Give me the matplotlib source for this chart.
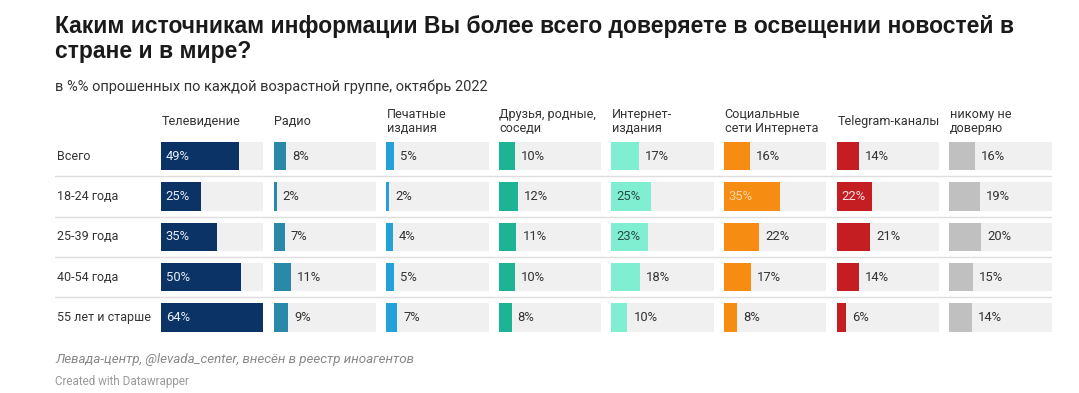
import numpy as np
import matplotlib.pyplot as plt
import matplotlib.transforms as mtransforms

plt.rcParams['font.family'] = ['Roboto', 'DejaVu Sans']

# data
groups = ["Всего", "18-24 года", "25-39 года", "40-54 года", "55 лет и старше"]
sources = ["Телевидение", "Радио", "Печатные\nиздания", "Друзья, родные,\nсоседи",
           "Интернет-\nиздания", "Социальные\nсети Интернета", "Telegram-каналы",
           "никому не\nдоверяю"]
tv = [49, 25, 35, 50, 64]
radio = [8, 2, 7, 11, 9]
printed = [5, 2, 4, 5, 7]
friends = [10, 12, 11, 10, 8]
internet = [17, 25, 23, 18, 10]
social = [16, 35, 22, 17, 8]
telegram = [14, 22, 21, 14, 6]
nobody = [16, 19, 20, 15, 14]
columns = [tv, radio, printed, friends, internet, social, telegram, nobody]

colors = ["#0b3366", "#2a88a9", "#25a1d9", "#1cb495", "#80efd1", "#f68c12", "#c41d22", "#c0c0c0"]
inside_txt = ["#e8eef8", "#333333", "#333333", "#333333", "#2c4a44", "#ffd9a8", "#fbe3e3", "#333333"]
# which labels sit inside their bar
inside = {0: [0, 1, 2, 3, 4], 4: [1, 2], 5: [1], 6: [1]}

W, H = 1079, 393
fig = plt.figure(figsize=(W / 100, H / 100), dpi=100)
fig.patch.set_facecolor("white")

top_px, bot_px = 135.8, 337.8
ax_b = 1 - bot_px / H
ax_h = (bot_px - top_px) / H
y = np.arange(len(groups))
xmax = 64
bh = 0.705

# separators across the whole table
sep = fig.add_axes([55 / W, ax_b, (1052 - 55) / W, ax_h])
sep.set_ylim(len(groups) - 0.5, -0.5)
sep.set_xlim(0, 1)
for k in range(len(groups) - 1):
    sep.axhline(k + 0.5, color="#dedede", lw=1)
sep.axis("off")

col0, period, colw = 161, 112.6, 102.5
for c, vals in enumerate(columns):
    ax = fig.add_axes([(col0 + c * period) / W, ax_b, colw / W, ax_h])
    ax.barh(y, [xmax] * len(vals), height=bh, color="#f0f0f0", lw=0)
    ax.barh(y, vals, height=bh, color=colors[c], lw=0)
    ax.set_xlim(0, xmax)
    ax.set_ylim(len(groups) - 0.5, -0.5)
    ax.axis("off")
    for r, v in enumerate(vals):
        if r in inside.get(c, []):
            ax.annotate(f"{v}%", (0, r), xytext=(3.5, 0), textcoords="offset points",
                        ha="left", va="center", fontsize=9.4, color=inside_txt[c])
        else:
            ax.annotate(f"{v}%", (v, r), xytext=(4.3, 0), textcoords="offset points",
                        ha="left", va="center", fontsize=9.4, color="#333333")
    ax.annotate(sources[c], (0, 1), xycoords="axes fraction", xytext=(0.5, 10.2),
                textcoords="offset points", ha="left", va="center", fontsize=9.1,
                color="#333333", linespacing=1.05)
    if c == 0:
        tr = mtransforms.blended_transform_factory(fig.transFigure, ax.transData)
        for r, g in enumerate(groups):
            ax.text(57 / W, r, g, transform=tr, ha="left", va="center",
                    fontsize=9.0, color="#333333")

fig.text(55 / W, 1 - 33 / H, "Каким источникам информации Вы более всего доверяете в освещении новостей в",
         fontsize=16.5, fontweight="bold", family="Liberation Sans", color="#1a1a1a",
         va="baseline", ha="left")
fig.text(55 / W, 1 - 58 / H, "стране и в мире?",
         fontsize=16.5, fontweight="bold", family="Liberation Sans", color="#1a1a1a",
         va="baseline", ha="left")
fig.text(55 / W, 1 - 87 / H, "в %% опрошенных по каждой возрастной группе, октябрь 2022",
         fontsize=10.5, color="#333333", va="center", ha="left")
fig.text(55 / W, 1 - 359 / H, "Левада-центр, @levada_center, внесён в реестр иноагентов",
         fontsize=9.6, color="#888888", style="italic", va="center", ha="left")
fig.text(55 / W, 1 - 381 / H, "Created with Datawrapper",
         fontsize=8.4, color="#999999", va="center", ha="left")

fig.savefig("out.png", dpi=100)
